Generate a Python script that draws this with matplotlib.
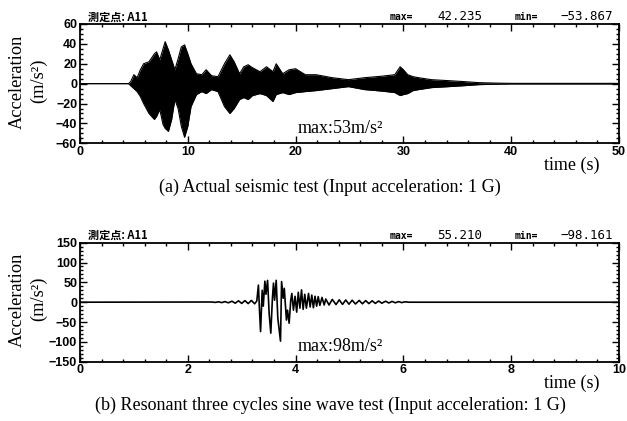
import numpy as np
import matplotlib
matplotlib.use("Agg")
import matplotlib.pyplot as plt
from matplotlib.ticker import MultipleLocator
from matplotlib.font_manager import FontProperties

# (a) actual seismic test: envelope of the dense record
a_time = [0, 4.5, 4.7, 5.0, 5.3, 5.6, 5.9, 6.4, 6.9, 7.1,
          7.4, 7.7, 7.9, 8.2, 8.5, 8.8, 9.1, 9.4, 9.7, 10.0,
          10.3, 10.8, 11.3, 11.7, 12.2, 12.8, 13.4, 13.9, 14.3, 14.8,
          15.2, 15.6, 16.0, 16.7, 17.3, 17.9, 18.2, 18.8, 19.4, 20.0,
          20.9, 21.9, 23.4, 24.9, 26.4, 28.0, 29.2, 29.7, 30.0, 30.4,
          30.9, 31.4, 32.6, 34.2, 35.7, 37.0, 38.8, 40.0, 50]
a_upper = [0, 0, 2, 9, 6, 14, 20, 22, 30, 32,
           24, 35, 42.2, 34, 24, 14, 25, 37, 39, 30,
           20, 10, 9, 14, 8, 7, 20, 29, 22, 10,
           17, 19, 16, 12, 17, 12, 20, 10, 14, 15,
           9, 9, 6, 4, 6, 7.5, 9, 17, 14, 9,
           7, 6, 4, 3, 2, 1, 0.5, 0.3, 0.3]
a_lower = [0, 0, -2, -5, -8, -13, -20, -30, -36, -33,
           -26, -41, -45, -48, -36, -16, -25, -43, -53.9, -43,
           -23, -11, -8, -10, -6, -8, -23, -30, -25, -16,
           -14, -16, -12, -10, -12, -18, -11, -9, -11, -9,
           -8, -7, -5, -3, -6, -7.5, -9, -12, -11, -10,
           -7, -6, -4, -3, -2, -1, -0.5, -0.3, -0.3]

# (b) resonant three cycles sine wave test: peaks of the record
b_time = [0, 2.45, 2.51, 2.57, 2.63, 2.69, 2.75, 2.82, 2.88, 2.94, 3.00, 3.06, 3.12, 3.18, 3.24, 3.28,
          3.31, 3.33, 3.35, 3.38, 3.40, 3.43, 3.45, 3.48, 3.51, 3.54,
          3.57, 3.59, 3.61, 3.64, 3.67, 3.72, 3.74, 3.77, 3.79, 3.83,
          3.85, 3.88, 3.91, 3.93, 3.96, 3.99, 4.02, 4.05, 4.08, 4.11,
          4.14, 4.17, 4.20, 4.24, 4.27, 4.30, 4.33, 4.36, 4.39, 4.42,
          4.45, 4.49, 4.53,
          4.56, 4.62, 4.68, 4.75, 4.81, 4.87, 4.93, 4.99, 5.05, 5.11,
          5.18, 5.24, 5.30, 5.36, 5.42, 5.48, 5.54, 5.60, 5.67, 5.73,
          5.79, 5.85, 5.91, 5.97, 6.03, 6.10, 10]
b_acc = [0, 0.5, -0.5, 1, -1, 1.5, -1.5, 2.5, -2.5, 3.5, -3, 4, -3.5, 4.5, -4, 3,
         43, -20, -74, 30, -10, 53, 20, 55, -30, -78,
         10, 48, 5, 55.2, -40, -98.2, 52, 10, 35, -45,
         -20, -53, 5, 22, -20, 15, -25, 25, -15, 31,
         -18, 20, -15, 22, -12, 18, -14, 15, -10, 14,
         -8, 12, -7,
         8, -7, 7, -6, 6, -5.5, 5.5, -5, 5, -4.5,
         4.5, -4, 4, -3.5, 3.5, -3, 3, -2.5, 2.5, -2,
         2, -1.5, 1.5, -1, 1, 0, 0]

panels = [
    dict(xlim=50, xmaj=10, xmin=2, ylim=60, ymaj=20, ymin=5,
         vmax="42.235", vmin="\u221253.867", peak="max:53m/s\u00b2",
         caption="(a) Actual seismic test (Input acceleration: 1 G)"),
    dict(xlim=10, xmaj=2, xmin=0.4, ylim=150, ymaj=50, ymin=10,
         vmax="55.210", vmin="\u221298.161", peak="max:98m/s\u00b2",
         caption="(b) Resonant three cycles sine wave test (Input acceleration: 1 G)"),
]

W, H = 627, 421
fig = plt.figure(figsize=(W / 100, H / 100), dpi=100)


def fx(px):
    return px / W


def fy(py):
    return 1 - py / H


serif = "Liberation Serif"
tick_font = FontProperties(family="Liberation Sans", weight="bold", size=9)

# top / bottom pixel edges of the two plot boxes
boxes = [(24, 143.3), (242.7, 361.7)]

for i, (p, (top, bot)) in enumerate(zip(panels, boxes)):
    ax = fig.add_axes([fx(80), fy(bot), fx(619) - fx(80), (bot - top) / H])
    if i == 0:
        ax.fill_between(a_time, a_lower, a_upper, color="black", lw=0)
        ax.plot(a_time, a_upper, color="black", lw=0.8)
        ax.plot(a_time, a_lower, color="black", lw=0.8)
    else:
        ax.plot(b_time, b_acc, color="black", lw=1.2)

    ax.set_xlim(0, p["xlim"])
    ax.set_ylim(-p["ylim"], p["ylim"])
    ax.xaxis.set_major_locator(MultipleLocator(p["xmaj"]))
    ax.xaxis.set_minor_locator(MultipleLocator(p["xmin"]))
    ax.yaxis.set_major_locator(MultipleLocator(p["ymaj"]))
    ax.yaxis.set_minor_locator(MultipleLocator(p["ymin"]))
    ax.tick_params(which="both", direction="in", top=True, right=True, width=1)
    ax.tick_params(which="major", length=5, pad=2)
    ax.tick_params(which="minor", length=2.5)
    for lab in ax.get_xticklabels() + ax.get_yticklabels():
        lab.set_fontproperties(tick_font)
    for s in ax.spines.values():
        s.set_linewidth(1.3)

    # header line above the box
    hy = fy(top - 7)
    fig.text(fx(88), hy, "測定点: A11", family=["Noto Sans CJK JP", "DejaVu Sans"],
             weight="bold", size=8, va="center")
    fig.text(fx(390), hy, "max=", family="DejaVu Sans Mono", weight="bold", size=7, va="center")
    fig.text(fx(437), hy, p["vmax"], family="DejaVu Sans Mono", size=9, va="center")
    fig.text(fx(515), hy, "min=", family="DejaVu Sans Mono", weight="bold", size=7, va="center")
    fig.text(fx(613), hy, p["vmin"], family="DejaVu Sans Mono", size=9, va="center", ha="right")

    # y label in two lines
    mid = (top + bot) / 2
    fig.text(fx(17), fy(mid - 2), "Acceleration", family=serif, size=13.2,
             rotation=90, ha="center", va="center")
    fig.text(fx(39), fy(mid - 3), "(m/s\u00b2)", family=serif, size=13.2,
             rotation=90, ha="center", va="center")

    ax.text(0.403, 0.09, p["peak"], transform=ax.transAxes, family=serif, size=13,
            va="baseline")
    fig.text(fx(600), fy(bot + 22), "time (s)", family=serif, size=13, ha="right", va="center")
    fig.text(fx(330), fy(bot + 44), p["caption"], family=serif, size=13, ha="center", va="center")

fig.savefig("out.png", dpi=100)
